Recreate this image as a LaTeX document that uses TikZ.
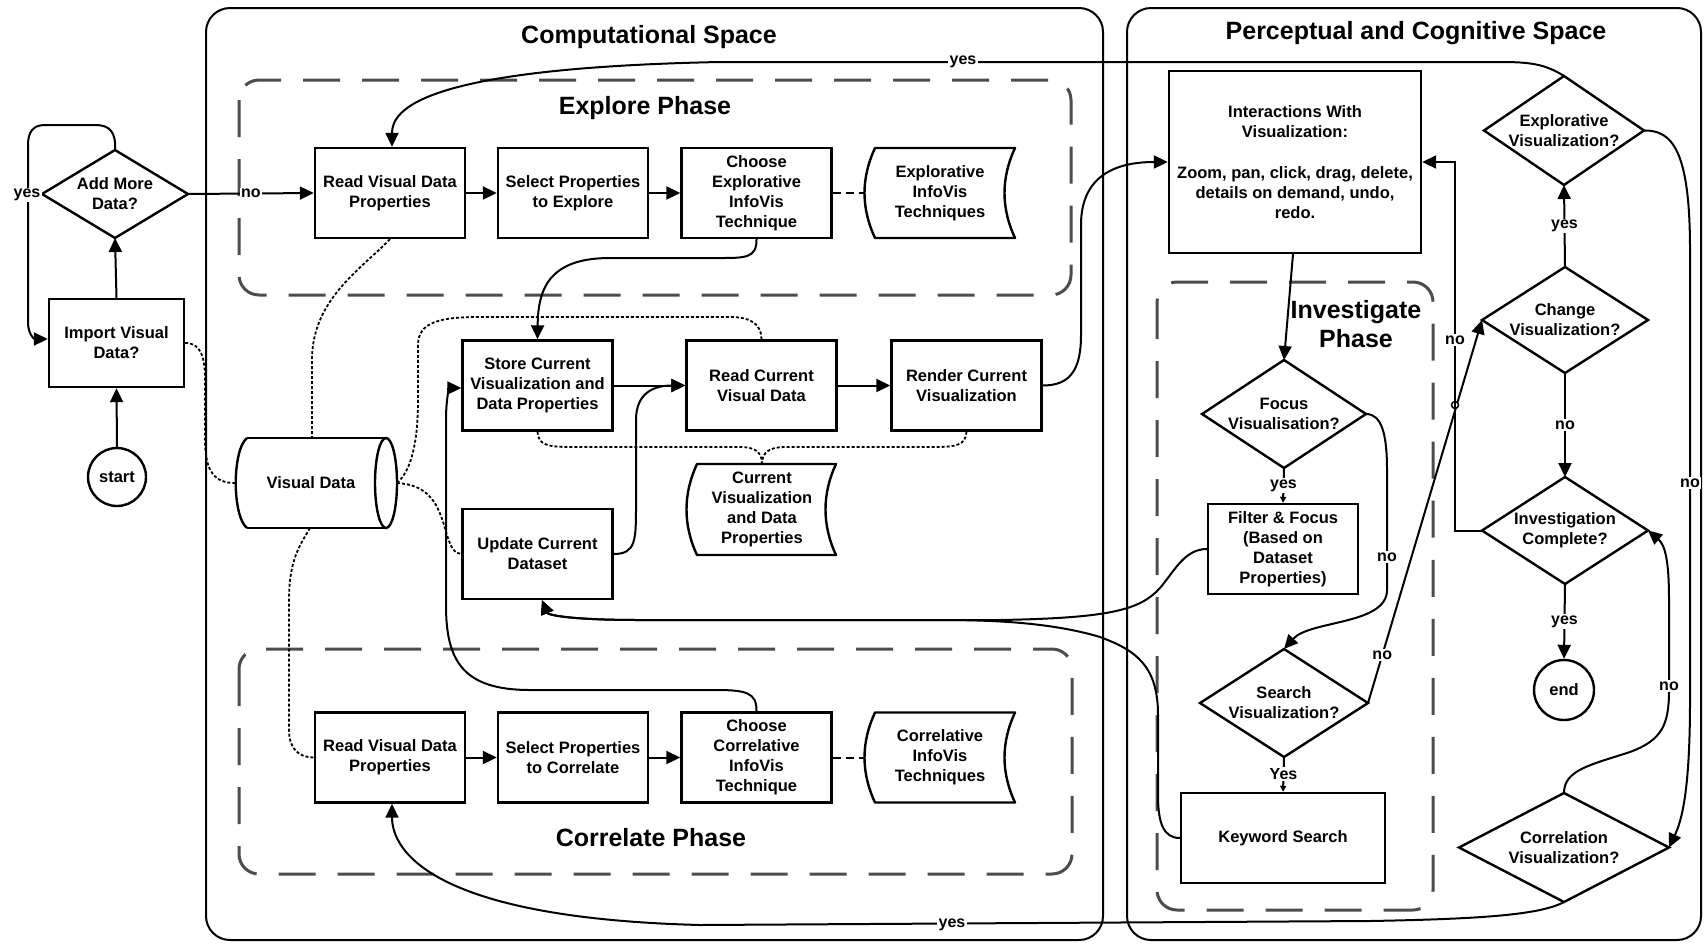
\documentclass[tikz,border=0pt]{standalone}
\usepackage{fontspec}
\setmainfont{Liberation Sans}
\usetikzlibrary{shapes.geometric,arrows.meta,calc}
\newcommand\bxf{\fontsize{16.5}{20}\selectfont\bfseries}
\newcommand\ttlf{\fontsize{25}{29}\selectfont\bfseries}
\newcommand\lblf{\fontsize{16}{18}\selectfont\bfseries}
\begin{document}
\begin{tikzpicture}[x=1pt,y=-1pt,
  box/.style={draw, line width=2.4pt, fill=white, minimum width=150pt, minimum height=90pt, align=center, inner sep=1pt, font=\bxf},
  dia/.style={draw, diamond, line width=2.4pt, fill=white, inner sep=0pt, outer sep=0pt},
  txt/.style={align=center, font=\bxf, inner sep=0pt},
  circ/.style={draw, circle, line width=2.4pt, fill=white, inner sep=0pt, font=\bxf},
  space/.style={draw, line width=2pt, rounded corners=24pt},
  phase/.style={draw, line width=3pt, black!70, rounded corners=20pt, dash pattern=on 37pt off 22pt},
  shapeln/.style={draw, line width=2.4pt, fill=white, line join=round},
  conn/.style={line width=2pt, -{Triangle[length=14pt,width=13pt]}},
  conns/.style={line width=2pt, -{Triangle[length=6pt,width=6pt]}},
  plain/.style={line width=2pt},
  shortdash/.style={line width=2pt, dash pattern=on 8pt off 5pt},
  dot/.style={line width=1.8pt, dash pattern=on 3pt off 2pt},
  lbl/.style={fill=white, inner sep=1.5pt, font=\lblf},
  ttl/.style={font=\ttlf, align=center, inner sep=0pt},
]
\useasboundingbox (0,0) rectangle (1705,943);

% spaces and phases
\draw[space] (206,8) rectangle (1103,940);
\draw[space] (1127,8) rectangle (1701,940);
\draw[phase] (239,80) rectangle (1071,295);
\draw[phase] (239,649) rectangle (1072,874);
\draw[phase] (1157,282) rectangle (1433,910);

% titles
\node[ttl] (tcomp) at (649,37) {Computational Space};
\node[ttl] (tperc) at (1416,33) {Perceptual and Cognitive Space};
\node[ttl] (texp) at (645,108) {Explore Phase};
\node[ttl] (tcor) at (651,838) {Correlate Phase};
\node[ttl] (tinv) at (1356,324) {Investigate\\Phase};

% left column
\node[circ, minimum size=58pt] (start) at (117,477) {start};
\node[box, minimum width=135pt, minimum height=88pt] (import) at (116.5,343) {Import Visual\\Data?};
\node[dia, minimum width=146pt, minimum height=88pt] (addmore) at (115,194) {};
\node[txt] (addmoreT) at (addmore) {Add More\\Data?};

% explore row
\node[box] (rvd1) at (390,193) {Read Visual Data\\Properties};
\node[box] (sel1) at (573,193) {Select Properties\\to Explore};
\node[box] (ch1) at (756.5,193) {Choose\\Explorative\\InfoVis\\Technique};
\draw[shapeln] (875,148) -- (1015,148) .. controls (1001,178) and (1001,208) .. (1015,238) -- (875,238) .. controls (861,208) and (861,178) .. (875,148) -- cycle;
\node[txt] (tp1) at (940,193) {Explorative\\InfoVis\\Techniques};
\coordinate (tp1W) at (864.5,193);

% correlate row
\node[box] (rvd2) at (390,757.5) {Read Visual Data\\Properties};
\node[box] (sel2) at (573,757.5) {Select Properties\\to Correlate};
\node[box] (ch2) at (756.5,757.5) {Choose\\Correlative\\InfoVis\\Technique};
\draw[shapeln] (875,712.5) -- (1015,712.5) .. controls (1001,742.5) and (1001,772.5) .. (1015,802.5) -- (875,802.5) .. controls (861,772.5) and (861,742.5) .. (875,712.5) -- cycle;
\node[txt] (tp2) at (940,757.5) {Correlative\\InfoVis\\Techniques};
\coordinate (tp2W) at (864.5,757.5);

% middle
\node[box] (store) at (537.5,385.5) {Store Current\\Visualization and\\Data Properties};
\node[box] (rcur) at (761.5,385.5) {Read Current\\Visual Data};
\node[box] (render) at (966.5,385.5) {Render Current\\Visualization};
\node[box] (update) at (537.5,554) {Update Current\\Dataset};
\draw[shapeln] (697,464) -- (836,464) .. controls (822,494) and (822,525) .. (836,555) -- (697,555) .. controls (683,525) and (683,494) .. (697,464) -- cycle;
\node[txt] (tp3) at (762,509.5) {Current\\Visualization\\and Data\\Properties};
\coordinate (tp3N) at (762,464);

% visual data cylinder
\fill[white] (247,438) -- (386,438) -- (386,528) -- (247,528) .. controls (232,516) and (232,450) .. (247,438);
\draw[line width=2.4pt] (247,438) -- (386,438);
\draw[line width=2.4pt] (247,528) -- (386,528);
\draw[line width=2.4pt] (247,438) .. controls (232,450) and (232,516) .. (247,528);
\draw[line width=2.4pt, fill=white] (386,483) ellipse (11pt and 45pt);
\node[txt] (vd) at (311,483) {Visual Data};
\coordinate (vdN) at (312,438);
\coordinate (vdS) at (310,528);
\coordinate (vdE) at (397,483);
\coordinate (vdW) at (235,483);

% right side
\node[box, minimum width=252pt, minimum height=182pt] (inter) at (1295,162) {Interactions With\\Visualization:\\[21pt]Zoom, pan, click, drag, delete,\\details on demand, undo,\\redo.};
\node[dia, minimum width=164pt, minimum height=108pt] (focus) at (1284,414) {};
\node[txt] (focusT) at (focus) {Focus\\Visualisation?};
\node[box] (filter) at (1283,549) {Filter \& Focus\\(Based on\\Dataset\\Properties)};
\node[dia, minimum width=168pt, minimum height=108pt] (search) at (1284,703) {};
\node[txt] (searchT) at (search) {Search\\Visualization?};
\node[box, minimum width=204pt] (keyword) at (1283,838) {Keyword Search};
\node[dia, minimum width=160pt, minimum height=109pt] (expdec) at (1564,130.5) {};
\node[txt] (expdecT) at (expdec) {Explorative\\Visualization?};
\node[dia, minimum width=166pt, minimum height=106pt] (change) at (1565,320) {};
\node[txt] (changeT) at (change) {Change\\Visualization?};
\node[dia, minimum width=166pt, minimum height=107pt] (invc) at (1565,530.5) {};
\node[txt] (invcT) at (invc) {Investigation\\Complete?};
\node[circ, minimum size=60pt] (end) at (1564,690) {end};
\node[dia, minimum width=210pt, minimum height=109pt] (corrd) at (1564,847.5) {};
\node[txt] (corrdT) at (corrd) {Correlation\\Visualization?};

% ---------- connectors ----------
% left
\draw[conn] (start.north) -- (import.south);
\draw[conn] (import.north) -- (addmore.south);
\draw[conn] (addmore.north) .. controls (116,132) and (110,125) .. (95,125) -- (45,125) .. controls (33,125) and (28,132) .. (28,145) -- (28,322) .. controls (28,334) and (34,339) .. ([yshift=4pt]import.west);
\node[lbl] (lyes0) at (27,195) {yes};
\draw[conn] (addmore.east) -- (rvd1.west) node[lbl, pos=0.5] (lno0) {no};

% explore row
\draw[conn] (rvd1) -- (sel1);
\draw[conn] (sel1) -- (ch1);
\draw[shortdash] (ch1.east) -- (tp1W);

% top yes
\draw[conn] (expdec.north) .. controls (1545,64) and (1530,62) .. (1500,62) -- (720,62) .. controls (420,68) and (392,110) .. ([xshift=2pt]rvd1.north);
\node[lbl] (lyes1) at (963,62) {yes};

% middle
\draw[conn] (ch1.south) .. controls (757,258) and (745,258) .. (720,258) -- (610,258) .. controls (548,258) and (538,290) .. (store.north);
\draw[conn] (store) -- (rcur);
\draw[conn] (rcur) -- (render);
\draw[conn] (update.east) .. controls (636,554) and (636,540) .. (636,505) -- (636,420) .. controls (636,392) and (655,385.5) .. (rcur.west);
\draw[conn] (render.east) .. controls (1070,385.5) and (1081,370) .. (1081,335) -- (1081,225) .. controls (1081,180) and (1110,162) .. (inter.west);

% correlate row
\draw[conn] (rvd2) -- (sel2);
\draw[conn] (sel2) -- (ch2);
\draw[shortdash] (ch2.east) -- (tp2W);
\draw[conn] (ch2.north) .. controls (757,692) and (745,690) .. (715,690) -- (530,690) .. controls (462,690) and (446,660) .. (446,605) -- (446,420) .. controls (446,396) and (450,388) .. ([yshift=-2.5pt]store.west);

% bottom yes
\draw[conn] (corrd.south) .. controls (1540,915) and (1480,919) .. (1370,921) -- (700,925) .. controls (430,918) and (392,850) .. ([xshift=2pt]rvd2.south);
\node[lbl] (lyes2) at (952,925) {yes};

% dotted data links
\draw[dot] (import.east) .. controls (200,343) and (205,355) .. (205,380) -- (205,440) .. controls (205,472) and (215,483) .. (vdW);
\draw[dot] (rvd1.south) .. controls (360,270) and (312,300) .. (312,360) -- (vdN);
\draw[dot] (vdS) .. controls (300,545) and (289,560) .. (289,600) -- (289,730) .. controls (289,750) and (300,757.5) .. (rvd2.west);
\draw[dot] (vdE) .. controls (412,470) and (418,440) .. (418,400) -- (418,345) .. controls (418,322) and (440,317) .. (480,317) -- (730,317) .. controls (752,317) and (761.5,325) .. (rcur.north);
\draw[dot] (vdE) .. controls (430,485) and (438,505) .. (445,528) .. controls (450,548) and (455,554) .. (update.west);
\draw[dot] (store.south) .. controls (538,445) and (548,447) .. (570,447) -- (740,447) .. controls (755,447) and (762,452) .. (tp3N);
\draw[dot] (render.south) .. controls (966,445) and (956,447) .. (935,447) -- (785,447) .. controls (770,447) and (762,452) .. (tp3N);

% investigate
\draw[conn] ([xshift=-2pt]inter.south) -- (focus.north);
\draw[conns] (focus.south) -- (filter.north) node[lbl, midway] (lyes3) {yes};
\draw[conn] (focus.east) .. controls (1382,414) and (1387,435) .. (1387,470) -- (1387,590) .. controls (1387,625) and (1310,620) .. (search.north);
\node[lbl] (lno3) at (1387,557) {no};
\draw[conns] (search.south) -- (keyword.north) node[lbl, midway] (lyes4) {Yes};
\draw[conn] (search.east) -- (change.west) node[lbl, pos=0.125] (lno4) {no};
\draw[line width=1.5pt, fill=white] (1455,405) circle (3.5pt);
\draw[conn] (filter.west) .. controls (1185,549) and (1175,570) .. (1160,588) .. controls (1140,610) and (1110,618) .. (1000,620) -- (640,620) .. controls (570,620) and (548,615) .. ([xshift=4.5pt]update.south);
\draw[conn] (keyword.west) .. controls (1163,838) and (1158,822) .. (1158,795) -- (1158,715) .. controls (1158,665) and (1135,650) .. (1100,637) .. controls (1050,622) and (990,620) .. (940,620) -- (640,620) .. controls (570,620) and (548,615) .. ([xshift=4.5pt]update.south);

% right column
\draw[conn] (change.north) -- (expdec.south) node[lbl, midway] (lyes5) {yes};
\draw[conn] (change.south) -- (invc.north) node[lbl, midway] (lno5) {no};
\draw[conn] (invc.south) -- (end.north) node[lbl, midway] (lyes6) {yes};
\draw[conn] (invc.west) -- (1455,530.5) -- (1455,162) -- (inter.east);
\node[lbl] (lno6) at (1455,340) {no};
\draw[conn] (expdec.east) .. controls (1672,130) and (1690,150) .. (1690,250) -- (1690,700) .. controls (1690,790) and (1682,820) .. (corrd.east);
\node[lbl] (lno7) at (1690,483) {no};
\draw[conn] (corrd.north) .. controls (1564,770) and (1590,765) .. (1630,752) .. controls (1662,740) and (1669,725) .. (1669,690) -- (1669,600) .. controls (1669,560) and (1665,545) .. (invc.east);
\node[lbl] (lno8) at (1669,686) {no};
\end{tikzpicture}
\end{document}
